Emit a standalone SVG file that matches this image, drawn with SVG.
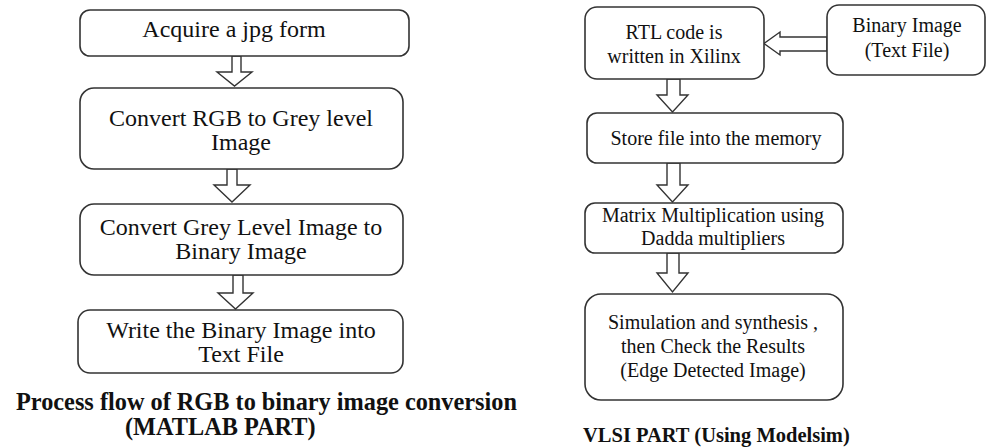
<svg xmlns="http://www.w3.org/2000/svg" width="987" height="448" viewBox="0 0 987 448">
<style>
.box{fill:#fff;stroke:#333;stroke-width:1.6}
.arr{fill:#fff;stroke:#333;stroke-width:1.4;stroke-linejoin:miter}
.t{font-family:"Liberation Serif","Times New Roman",serif;fill:#111;text-anchor:middle}
.l{font-size:24px}
.r{font-size:20px}
.h{font-family:"Liberation Serif","Times New Roman",serif;font-weight:bold;fill:#111}
.hl{font-size:24.3px}
.hr{font-size:20.5px}
</style>
<rect width="987" height="448" fill="#fff"/>
<g id="connectors">
<polygon class="arr" points="232,56 241,56 241,72 252,72 234.5,86 217,72 232,72"/>
<polygon class="arr" points="227,169 237,169 237,185 250,185 232,202 214,185 227,185"/>
<polygon class="arr" points="233,275 243,275 243,293 253,293 235.5,309 218,293 233,293"/>
<polygon class="arr" points="827,37 780,37 780,32 764,43.5 780,55 780,51 827,51"/>
<polygon class="arr" points="667,79 680,79 680,95 688,95 672.5,112 657,95 667,95"/>
<polygon class="arr" points="667,163 680,163 680,185 688,185 672.5,202 657,185 667,185"/>
<polygon class="arr" points="667,253 679,253 679,273 688,273 672.5,292 657,273 667,273"/>
</g>
<g id="acquire">
<rect class="box" x="80" y="10" width="329" height="46" rx="10"/>
<text class="t l" x="234" y="37">Acquire a jpg form</text>
</g>
<g id="rgb2grey">
<rect class="box" x="80" y="88" width="323" height="81" rx="14"/>
<text class="t l" x="241" y="126">Convert RGB to Grey level</text>
<text class="t l" x="241" y="150">Image</text>
</g>
<g id="grey2bin">
<rect class="box" x="80" y="204" width="323" height="71" rx="14"/>
<text class="t l" x="241" y="235">Convert Grey Level Image to</text>
<text class="t l" x="241" y="259">Binary Image</text>
</g>
<g id="writebin">
<rect class="box" x="78" y="310" width="325" height="63" rx="12"/>
<text class="t l" x="241" y="338">Write the Binary Image into</text>
<text class="t l" x="241" y="362">Text File</text>
</g>
<g id="title-left">
<text class="h hl" x="16" y="410">Process flow of RGB to binary image conversion</text>
<text class="h hl" x="125" y="435">(MATLAB PART)</text>
</g>
<g id="rtl">
<rect class="box" x="585" y="7" width="179" height="72" rx="12"/>
<text class="t r" x="674" y="39">RTL code is</text>
<text class="t r" x="674" y="63">written in Xilinx</text>
</g>
<g id="binimage">
<rect class="box" x="827" y="5" width="158" height="70" rx="12"/>
<text class="t r" x="907" y="32">Binary Image</text>
<text class="t r" x="907" y="57">(Text File)</text>
</g>
<g id="store">
<rect class="box" x="587" y="113" width="256" height="50" rx="10"/>
<text class="t r" x="716" y="145">Store file into the memory</text>
</g>
<g id="matrix">
<rect class="box" x="585" y="203" width="258" height="50" rx="10"/>
<text class="t r" x="713" y="222">Matrix Multiplication using</text>
<text class="t r" x="713" y="245">Dadda multipliers</text>
</g>
<g id="simulation">
<rect class="box" x="585" y="294" width="258" height="106" rx="16"/>
<text class="t r" x="713" y="329">Simulation and synthesis ,</text>
<text class="t r" x="713" y="353">then Check the Results</text>
<text class="t r" x="713" y="377">(Edge Detected Image)</text>
</g>
<g id="title-right">
<text class="h hr" x="583" y="442">VLSI PART (Using Modelsim)</text>
</g>
</svg>
